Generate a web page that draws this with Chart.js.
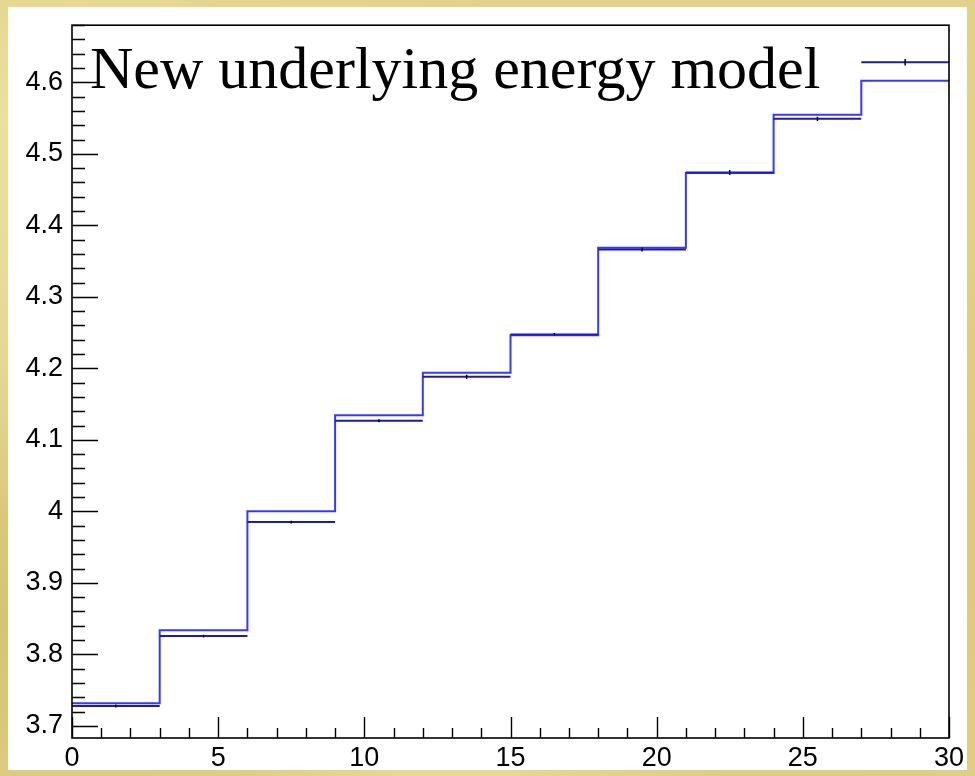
<!DOCTYPE html>
<html>
<head>
<meta charset="utf-8">
<script src="https://cdn.jsdelivr.net/npm/chart.js@4/dist/chart.umd.min.js"></script>
<style>
  html, body { margin: 0; padding: 0; }
  body {
    width: 975px; height: 776px; overflow: hidden; position: relative;
    background-color: #e2d189;
    background-image:
      radial-gradient(ellipse at 20% 30%, rgba(245,236,180,0.55), rgba(245,236,180,0) 40%),
      radial-gradient(ellipse at 80% 70%, rgba(206,186,104,0.5), rgba(206,186,104,0) 45%),
      radial-gradient(ellipse at 50% 95%, rgba(240,228,165,0.5), rgba(240,228,165,0) 35%),
      radial-gradient(ellipse at 5% 80%, rgba(200,182,98,0.55), rgba(200,182,98,0) 30%),
      radial-gradient(ellipse at 2% 15%, rgba(238,228,160,0.6), rgba(238,228,160,0) 20%);
  }
  #pad { position: absolute; left: 8px; top: 7px; width: 959px; height: 763px; background: #ffffff; }
  #wrap { position: absolute; left: 0; top: 0; width: 975px; height: 776px; }
</style>
</head>
<body>
<div id="pad"></div>
<div id="wrap"><canvas id="c" width="975" height="776"></canvas></div>
<script>
// Bin edges of the histogram (x axis)
const binEdges = [0, 3, 6, 9, 12, 15, 18, 21, 24, 27, 30];
// Model prediction per bin (blue step line)
const modelValues = [3.7315, 3.8338, 4.0000, 4.1345, 4.1938, 4.2465, 4.3687, 4.4732, 4.5547, 4.6023];
// Measured mean per bin and its uncertainty
const dataValues = [3.7278, 3.8255, 3.9850, 4.1267, 4.1882, 4.2475, 4.3663, 4.4738, 4.5491, 4.6282];
const dataErrors = [0.0020, 0.0020, 0.0020, 0.0020, 0.0030, 0.0020, 0.0030, 0.0035, 0.0030, 0.0046];
// Labelled tick positions
const xTickLabels = [0, 5, 10, 15, 20, 25, 30];
const yTickLabels = [3.7, 3.8, 3.9, 4.0, 4.1, 4.2, 4.3, 4.4, 4.5, 4.6];
const plotTitle = 'New underlying energy model';

// Step line: one point at each left edge, plus the closing right edge
const stepPoints = binEdges.map((e, i) => ({ x: e, y: modelValues[Math.min(i, modelValues.length - 1)] }));

// Horizontal bin-width bars for the measured values, separated by gaps
const barPoints = [];
const errPoints = [];
dataValues.forEach((v, i) => {
  const lo = binEdges[i], hi = binEdges[i + 1], mid = (lo + hi) / 2;
  barPoints.push({ x: lo, y: v }, { x: hi, y: v }, { x: hi, y: null });
  errPoints.push({ x: mid, y: v - dataErrors[i] }, { x: mid, y: v + dataErrors[i] }, { x: mid, y: null });
});

const labelFont = { family: '"Liberation Sans", Arial, sans-serif', size: 27 };

// Frame, inward ticks and the text box inside the plot
const frameAndTicks = {
  id: 'frameAndTicks',
  afterDraw(chart) {
    const { ctx, chartArea: a, scales: { x, y } } = chart;
    ctx.save();
    ctx.strokeStyle = '#000';
    ctx.lineWidth = 1.4;
    ctx.beginPath();
    // y axis ticks every 0.02, long every 0.1
    for (let k = Math.ceil(y.min / 0.02 - 1e-6); k * 0.02 <= y.max + 1e-9; k++) {
      const v = k * 0.02;
      const py = Math.round(y.getPixelForValue(v)) + 0.5;
      if (py < a.top || py > a.bottom) continue;
      const major = k % 5 === 0;
      ctx.moveTo(a.left, py);
      ctx.lineTo(a.left + (major ? 26 : 13), py);
    }
    // x axis ticks every 1, long every 5
    for (let k = 0; k <= 30; k++) {
      const px = Math.round(x.getPixelForValue(k)) + 0.5;
      const major = k % 5 === 0;
      ctx.moveTo(px, a.bottom);
      ctx.lineTo(px, a.bottom - (major ? 21 : 10));
    }
    ctx.stroke();
    ctx.lineWidth = 1.6;
    ctx.strokeRect(a.left, a.top, a.right - a.left, a.bottom - a.top);
    ctx.fillStyle = '#000';
    ctx.font = '60px "Liberation Serif", "Times New Roman", serif';
    ctx.textBaseline = 'alphabetic';
    ctx.textAlign = 'left';
    ctx.fillText(plotTitle, a.left + 18, 88);
    ctx.restore();
  }
};

new Chart(document.getElementById('c'), {
  type: 'line',
  data: {
    datasets: [
      { data: barPoints, borderColor: '#1c1ca6', borderWidth: 2, pointRadius: 0, spanGaps: false, order: 2 },
      { data: errPoints, borderColor: '#000', borderWidth: 1.5, pointRadius: 0, spanGaps: false, order: 1 },
      { data: stepPoints, borderColor: 'rgba(20,20,255,0.85)', borderWidth: 2, pointRadius: 0, stepped: 'before', order: 0 }
    ]
  },
  options: {
    responsive: false,
    animation: false,
    layout: { padding: { top: 20, right: 26, left: 0, bottom: 0 } },
    plugins: { legend: { display: false }, tooltip: { enabled: false }, title: { display: false } },
    scales: {
      x: {
        type: 'linear', min: 0, max: 30,
        grid: { display: false, drawTicks: false }, border: { display: false },
        afterBuildTicks: s => { s.ticks = xTickLabels.map(v => ({ value: v })); },
        afterFit: s => { s.height = 38; },
        ticks: { autoSkip: false, maxRotation: 0, padding: 4, color: '#000', font: labelFont,
                 callback: v => String(v) }
      },
      y: {
        type: 'linear', min: 3.683, max: 4.68,
        grid: { display: false, drawTicks: false }, border: { display: false },
        afterBuildTicks: s => { s.ticks = yTickLabels.map(v => ({ value: v })); },
        afterFit: s => { s.width = 72; },
        ticks: { autoSkip: false, padding: 9, color: '#000', font: labelFont,
                 callback: v => String(Math.round(v * 10) / 10) }
      }
    }
  },
  plugins: [frameAndTicks]
});
</script>
</body>
</html>
